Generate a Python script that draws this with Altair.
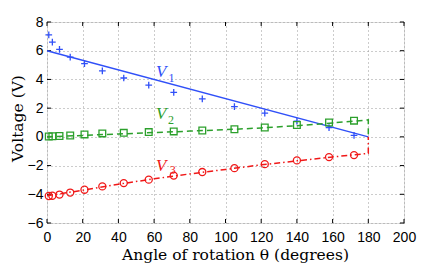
import altair as alt
import pandas as pd

theta_pts = [1, 3, 7, 13, 21, 31, 43, 57, 71, 87, 105, 122, 140, 158, 172]
v1_pts = [7.1, 6.6, 6.1, 5.55, 5.1, 4.6, 4.1, 3.6, 3.1, 2.65, 2.1, 1.65, 1.1, 0.65, 0.1]
v2_pts = [0.02, 0.04, 0.06, 0.1, 0.17, 0.24, 0.28, 0.33, 0.38, 0.44, 0.53, 0.65, 0.83, 1.0, 1.13]
v3_pts = [-4.12, -4.1, -4.02, -3.88, -3.68, -3.45, -3.22, -2.98, -2.7, -2.45, -2.18, -1.9, -1.64, -1.41, -1.27]

v1_line_theta = [0, 180]
v1_line = [6.0, 0.0]
curve_theta = [0, 20, 40, 60, 80, 100, 120, 140, 160, 180, 180]
v2_line = [0.0, 0.1, 0.2, 0.3, 0.4, 0.5, 0.62, 0.78, 0.97, 1.18, 0.0]
v3_line = [-4.1, -3.72, -3.3, -2.92, -2.58, -2.27, -1.95, -1.67, -1.4, -1.15, 0.0]

x_ticks = [0, 20, 40, 60, 80, 100, 120, 140, 160, 180, 200]
y_ticks = [-6, -4, -2, 0, 2, 4, 6, 8]

lbl_text = ["V", "V", "V"]
lbl_theta = [64, 64, 64]
lbl_v = [4.55, 1.62, -2.0]
sub_text = ["1", "2", "3"]
sub_theta = [69.8, 69.4, 70.4]
sub_v = [4.1, 1.15, -2.3]

BLUE = "#3050f8"
GREEN = "#2ca02c"
RED = "#f01818"

xs = alt.Scale(domain=[0, 200], nice=False, zero=False)
ys = alt.Scale(domain=[-6, 8], nice=False, zero=False)

xax = alt.Axis(values=x_ticks, grid=True, gridDash=[1, 3], gridColor="#999999", gridOpacity=1,
               ticks=False, domain=False, labelFont="Liberation Sans", labelFontSize=14,
               labelColor="black", labelPadding=7, labelOverlap=False, labelFlush=False,
               labelBound=False, tickCount=11,
               title="Angle of rotation θ (degrees)",
               titleFont="DejaVu Serif", titleFontSize=15.5, titleFontWeight="normal",
               titleColor="black", titlePadding=3, titleX=188, titleAnchor="middle")
yax = alt.Axis(values=y_ticks, grid=True, gridDash=[1, 3], gridColor="#999999", gridOpacity=1,
               ticks=False, domain=False, labelFont="Liberation Sans", labelFontSize=14,
               labelColor="black", labelPadding=4, labelOverlap=False, labelFlush=False,
               labelBound=False, tickCount=8,
               title="Voltage (V)",
               titleFont="DejaVu Serif", titleFontSize=15.5, titleFontWeight="normal",
               titleColor="black", titlePadding=2, titleY=96, titleAnchor="middle")

X = lambda f: alt.X(f, type="quantitative", scale=xs, axis=xax)
Y = lambda f: alt.Y(f, type="quantitative", scale=ys, axis=yax)

pts = pd.DataFrame({"t": theta_pts, "v1": v1_pts, "v2": v2_pts, "v3": v3_pts})
l1 = pd.DataFrame({"t": v1_line_theta, "v": v1_line, "o": list(range(len(v1_line)))})
l2 = pd.DataFrame({"t": curve_theta, "v": v2_line, "o": list(range(len(v2_line)))})
l3 = pd.DataFrame({"t": curve_theta, "v": v3_line, "o": list(range(len(v3_line)))})

line1 = alt.Chart(l1).mark_line(color=BLUE, strokeWidth=1.5).encode(x=X("t"), y=Y("v"), order="o:Q")
line2 = alt.Chart(l2).mark_line(color=GREEN, strokeWidth=1.5, strokeDash=[6, 4]).encode(x=X("t"), y=Y("v"), order="o:Q")
line3 = alt.Chart(l3).mark_line(color=RED, strokeWidth=1.5, strokeDash=[6, 3, 1.5, 3]).encode(x=X("t"), y=Y("v"), order="o:Q")

plus = "M-1,0L1,0M0,-1L0,1"
m1 = alt.Chart(pts).mark_point(shape=plus, filled=False, color=BLUE, size=45, strokeWidth=1.3, opacity=1).encode(x=X("t"), y=Y("v1"))
m2 = alt.Chart(pts).mark_point(shape="square", filled=False, color=GREEN, size=45, strokeWidth=1.3, opacity=1).encode(x=X("t"), y=Y("v2"))
m3 = alt.Chart(pts).mark_point(shape="circle", filled=False, color=RED, size=50, strokeWidth=1.3, opacity=1).encode(x=X("t"), y=Y("v3"))

lbl = pd.DataFrame({"t": lbl_theta, "v": lbl_v, "s": lbl_text, "c": [BLUE, GREEN, RED]})
sub = pd.DataFrame({"t": sub_theta, "v": sub_v, "s": sub_text, "c": [BLUE, GREEN, RED]})
t1 = alt.Chart(lbl).mark_text(font="Liberation Serif", fontStyle="italic", fontSize=17).encode(
    x=X("t"), y=Y("v"), text="s:N", color=alt.Color("c:N", scale=None))
t2 = alt.Chart(sub).mark_text(font="Liberation Serif", fontSize=12).encode(
    x=X("t"), y=Y("v"), text="s:N", color=alt.Color("c:N", scale=None))

xt = pd.DataFrame({"t": x_ticks})
yt = pd.DataFrame({"v": y_ticks})
tick_b = alt.Chart(xt).mark_rule(color="black", strokeWidth=1).encode(x=X("t"), y=alt.datum(-6), y2=alt.datum(-5.72))
tick_t = alt.Chart(xt).mark_rule(color="black", strokeWidth=1).encode(x=X("t"), y=alt.datum(8), y2=alt.datum(7.72))
tick_l = alt.Chart(yt).mark_rule(color="black", strokeWidth=1).encode(y=Y("v"), x=alt.datum(0), x2=alt.datum(2.3))
tick_r = alt.Chart(yt).mark_rule(color="black", strokeWidth=1).encode(y=Y("v"), x=alt.datum(200), x2=alt.datum(197.7))

chart = alt.layer(tick_b, tick_t, tick_l, tick_r, line1, line2, line3, m1, m2, m3, t1, t2).properties(
    width=357, height=201,
    autosize=alt.AutoSizeParams(type="none"),
    padding={"left": 39, "top": 14, "right": 31, "bottom": 46},
).configure_view(stroke="black", strokeWidth=1).configure_axis(
    labelOverlap=False
).configure(background="white")

chart.save("out.html", embed_options={"renderer": "svg", "actions": False})
